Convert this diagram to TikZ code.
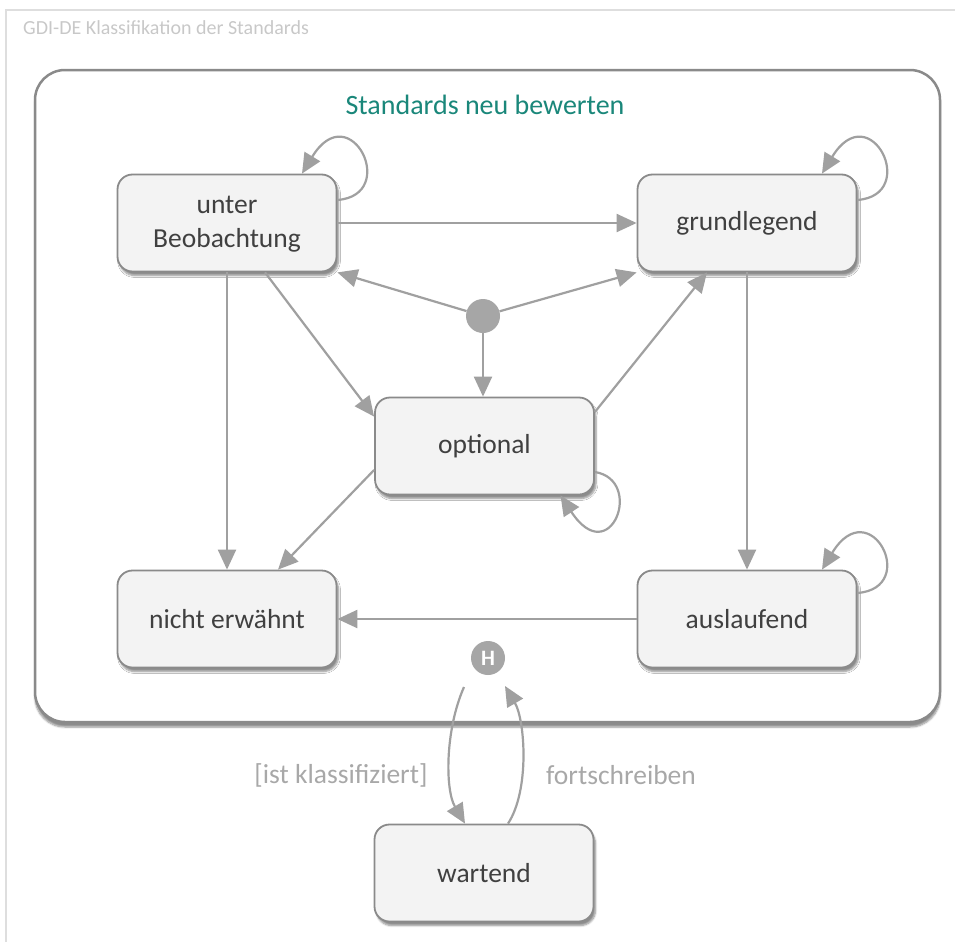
\documentclass[tikz,border=0pt]{standalone}
\usepackage{fontspec}
\setmainfont{Carlito}
\usetikzlibrary{arrows.meta,shadows.blur}
\definecolor{edgegray}{RGB}{160,160,160}
\definecolor{boxborder}{RGB}{138,138,138}
\definecolor{boxfill}{RGB}{243,243,243}
\definecolor{txtdark}{RGB}{64,64,64}
\definecolor{tealtitle}{RGB}{26,135,122}
\definecolor{framegray}{RGB}{222,222,222}
\definecolor{hdrgray}{RGB}{200,200,200}
\definecolor{lblgray}{RGB}{168,168,168}
\definecolor{dotgray}{RGB}{166,166,166}
\tikzset{
 statebox/.style={draw=boxborder, line width=1.8pt, fill=boxfill, rounded corners=15pt,
   minimum width=219pt, minimum height=97pt, align=center, text=txtdark,
   font=\fontsize{27.5}{35}\selectfont,
   blur shadow={shadow xshift=2pt, shadow yshift=-4pt, shadow blur steps=6, shadow opacity=45}},
 pseudo/.style={circle, fill=dotgray, minimum size=34pt, inner sep=0pt},
 trans/.style={draw=edgegray, line width=2.2pt, -{Triangle[length=20pt,width=18pt]}},
 lbl/.style={text=lblgray, font=\fontsize{27.5}{33}\selectfont},
}
\begin{document}
\begin{tikzpicture}[x=1pt,y=-1pt]
\useasboundingbox (0,0) rectangle (955,942);
% outer light frame
\draw[framegray, line width=1.5pt] (955,10) -- (6,10) -- (6,942);
\node[anchor=base west, inner sep=0pt, text=hdrgray, font=\fontsize{20}{24}\selectfont] (hdr) at (23,35) {GDI-DE Klassifikation der Standards};
% composite state
\node[draw=boxborder, line width=2.5pt, fill=white, rounded corners=30pt,
  minimum width=905pt, minimum height=652pt,
  blur shadow={shadow xshift=0pt, shadow yshift=-5pt, shadow blur steps=6, shadow opacity=45}] (frame) at (487.5,396) {};
\node[text=tealtitle, font=\fontsize{28}{34}\selectfont] (title) at (485,105) {Standards neu bewerten};
% states
\node[statebox] (UB) at (227,223) {\raisebox{-4pt}{\begin{tabular}{@{}c@{}}unter\\[-1pt]Beobachtung\end{tabular}}};
\node[statebox] (GR) at (747,223) {\raisebox{-4pt}{grundlegend}};
\node[statebox] (OP) at (484.5,446) {\raisebox{-4pt}{optional}};
\node[statebox] (NE) at (227,619) {\raisebox{-4pt}{nicht erwähnt}};
\node[statebox] (AU) at (747,619) {\raisebox{-4pt}{auslaufend}};
\node[statebox] (WA) at (484,873) {\raisebox{-4pt}{wartend}};
\node[pseudo] (init) at (483,316) {};
\node[pseudo, text=white, font=\bfseries\fontsize{22}{22}\selectfont] (H) at (488,658) {H};
% transitions
\draw[trans] (UB.east) -- (GR.west);
\draw[trans] (init) -- (UB.south east);
\draw[trans] (init) -- (GR.south west);
\draw[trans] (init) -- (init |- OP.north);
\draw[trans] ([xshift=38pt]UB.south) -- ([yshift=-20pt]OP.north west);
\draw[trans] (UB.south) -- (NE.north);
\draw[trans] ([yshift=-24pt]OP.west) -- ([xshift=51pt]NE.north);
\draw[trans] ([yshift=34pt]OP.east) -- ([xshift=-40pt]GR.south);
\draw[trans] (GR.south) -- (AU.north);
\draw[trans] (AU.west) -- (NE.east);
% self loops
\draw[trans] ([yshift=23pt]UB.east) .. controls +(63,-5) and +(48,-79) .. ([xshift=75pt]UB.north);
\draw[trans] ([yshift=23pt]GR.east) .. controls +(63,-5) and +(48,-79) .. ([xshift=75pt]GR.north);
\draw[trans] ([yshift=26pt]AU.east) .. controls +(63,-5) and +(48,-79) .. ([xshift=75pt]AU.north);
\draw[trans] ([yshift=-26pt]OP.east) .. controls +(50,8) and +(50,76) .. ([xshift=76pt]OP.south);
% history transitions
\coordinate (hL) at (464,687);
\coordinate (hR) at (505,686);
\draw[trans] (hL) .. controls (445,730) and (445,790) .. ([xshift=-19pt]WA.north);
\draw[trans] ([xshift=24pt]WA.north) .. controls (530,790) and (525,720) .. (hR);
\node[lbl] (l1) at (341,775) {[ist klassifiziert]};
\node[lbl] (l2) at (621,775) {fortschreiben};
\end{tikzpicture}
\end{document}
